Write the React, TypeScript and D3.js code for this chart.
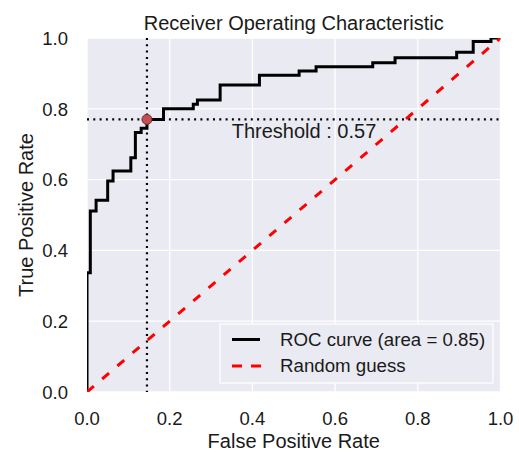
import React from "react";
import * as d3 from "d3";

const fpr = [0, 0, 0.008, 0.022, 0.05, 0.063, 0.106, 0.117, 0.131, 0.145, 0.185, 0.257, 0.267, 0.322, 0.417, 0.513, 0.554, 0.691, 0.745, 0.894, 0.934, 0.977, 1.0];
const tpr = [0, 0.337, 0.511, 0.542, 0.596, 0.624, 0.662, 0.733, 0.745, 0.77, 0.8, 0.813, 0.825, 0.867, 0.895, 0.907, 0.919, 0.93, 0.944, 0.96, 0.99, 1.0, 1.0];
const ticks = [0, 0.2, 0.4, 0.6, 0.8, 1.0];
const tickLabels = ["0.0", "0.2", "0.4", "0.6", "0.8", "1.0"];
const threshold = { fpr: 0.145, tpr: 0.77, label: "Threshold : 0.57" };
const randomLine = [[0, 0], [1, 1]];
const title = "Receiver Operating Characteristic";
const legendLabels = ["ROC curve (area = 0.85)", "Random guess"];

const W = 519, H = 454;
const L = 87, R = 500.5, T = 38, B = 392;
const FONT = "'Liberation Sans', Arial, Helvetica, sans-serif";
const TXT = "#1a1a1a";

export default function App() {
  const x = d3.scaleLinear().domain([0, 1]).range([L, R]);
  const y = d3.scaleLinear().domain([0, 1]).range([B, T]);
  const pts = fpr.map((f, i) => [f, tpr[i]] as [number, number]);
  const roc = d3.line<[number, number]>().x(d => x(d[0])).y(d => y(d[1])).curve(d3.curveStepAfter)(pts) || "";
  const diag = d3.line<number[]>().x(d => x(d[0])).y(d => y(d[1]))(randomLine) || "";

  return (
    <svg width={W} height={H} style={{ position: "absolute", left: 0, top: 0, background: "#fff" }} fontFamily={FONT}>
      <defs>
        <clipPath id="plot">
          <rect x={L} y={T} width={R - L} height={B - T} />
        </clipPath>
      </defs>
      <rect x={L} y={T} width={R - L} height={B - T} fill="#eaeaf2" />
      {ticks.map((t, i) => (
        <g key={"g" + i}>
          <line x1={x(t)} x2={x(t)} y1={T} y2={B} stroke="#fff" strokeWidth={1.3} />
          <line x1={L} x2={R} y1={y(t)} y2={y(t)} stroke="#fff" strokeWidth={1.3} />
        </g>
      ))}
      <g clipPath="url(#plot)">
        <path d={roc} fill="none" stroke="#000" strokeWidth={3} />
        <path d={diag} fill="none" stroke="#ff0000" strokeWidth={3} strokeDasharray="9 11" />
        <line x1={x(threshold.fpr)} x2={x(threshold.fpr)} y1={T} y2={B} stroke="#000" strokeWidth={2.2} strokeDasharray="2 4.3" />
        <line x1={L} x2={R} y1={y(threshold.tpr)} y2={y(threshold.tpr)} stroke="#000" strokeWidth={2.2} strokeDasharray="2 4.3" />
        <circle cx={x(threshold.fpr)} cy={y(threshold.tpr)} r={5} fill="#c44e52" stroke="#6b2a2c" strokeWidth={1} />
      </g>
      <text x={x(0.35)} y={y(0.72) + 0.5} fontSize={20} fill={TXT}>{threshold.label}</text>
      {/* legend */}
      <rect x={220} y={324} width={273} height={59} fill="#eaeaf2" stroke="#fff" strokeWidth={1.2} />
      <line x1={232} x2={260} y1={339.5} y2={339.5} stroke="#000" strokeWidth={3} />
      <text x={280} y={345.5} fontSize={18.7} fill={TXT}>{legendLabels[0]}</text>
      <line x1={232} x2={261} y1={366} y2={366} stroke="#ff0000" strokeWidth={3} strokeDasharray="10 9" />
      <text x={280} y={372} fontSize={18.7} fill={TXT}>{legendLabels[1]}</text>
      {/* ticks */}
      {ticks.map((t, i) => (
        <text key={"x" + i} x={x(t)} y={425} fontSize={18.5} textAnchor="middle" fill={TXT}>{tickLabels[i]}</text>
      ))}
      {ticks.map((t, i) => (
        <text key={"y" + i} x={68} y={y(t) + 6.7} fontSize={18.5} textAnchor="end" fill={TXT}>{tickLabels[i]}</text>
      ))}
      <text x={(L + R) / 2} y={30} fontSize={20} textAnchor="middle" fill={TXT}>{title}</text>
      <text x={(L + R) / 2} y={448} fontSize={20} textAnchor="middle" fill={TXT}>False Positive Rate</text>
      <text transform={`translate(33,${(T + B) / 2}) rotate(-90)`} fontSize={20} textAnchor="middle" fill={TXT}>True Positive Rate</text>
    </svg>
  );
}
